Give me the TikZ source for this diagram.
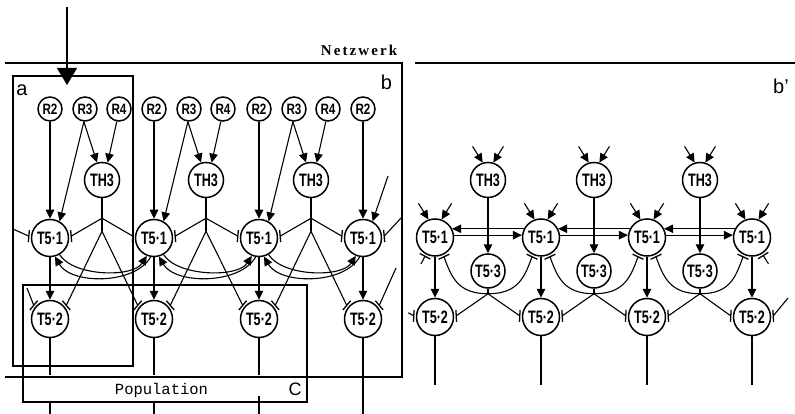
\documentclass[tikz,border=0pt]{standalone}
\usepackage{graphicx}
\usepackage{fontspec}
\setmainfont{Liberation Sans}
\newfontfamily\netzfont[LetterSpace=14]{Liberation Serif}
\newfontfamily\popfont{Liberation Mono}
\usetikzlibrary{arrows.meta,calc}
\newcommand{\nlab}[1]{\scalebox{0.7}[1]{\bfseries #1}}
\newcommand{\rlab}[1]{\scalebox{0.78}[1]{\bfseries #1}}
\newcommand{\inhbar}[3]{%
  \coordinate (#3) at ($(#1.#2)!-2pt!(#1.center)$);
  \draw[barline] ($(#3)!6pt!90:(#1.center)$) -- ($(#3)!6pt!-90:(#1.center)$);
}
\tikzset{
  conn/.style={line width=1.1pt},
  tri/.style={-{Triangle[length=9pt,width=8.5pt]}},
  cell/.style={circle, draw, line width=1.5pt, inner sep=0pt, minimum size=37pt, font=\fontsize{18}{18}\selectfont},
  rcell/.style={cell, minimum size=24pt, font=\fontsize{15}{15}\selectfont},
  thcell/.style={cell, minimum size=35pt},
  tthree/.style={cell, minimum size=34pt},
  barline/.style={line width=1.3pt},
  frame/.style={line width=1.1pt},
  biglabel/.style={inner sep=0pt, font=\fontsize{20}{20}\selectfont},
}
\begin{document}
\begin{tikzpicture}[x=1pt,y=1pt]
\useasboundingbox (0,0) rectangle (795,-414);

% ---------- frames ----------
\draw[frame] (5,-63) -| (402,-377) -- (5,-377);
\draw[frame] (415,-63) -- (795,-63);
\draw[frame] (13,-76) rectangle (133,-366);
\draw[frame] (23,-285) rectangle (307,-402);
\node[inner sep=0pt, font=\fontsize{15}{15}\selectfont\netzfont\bfseries] (netz) at (359,-50) {Netzwerk};
\node[inner sep=0pt, font=\fontsize{15.5}{15.5}\selectfont\popfont] (pop) at (161.5,-390) {Population};
\node[biglabel] (la) at (22,-90) {a};
\node[biglabel] (lb) at (386.5,-82.5) {b};
\node[biglabel] (lbp) at (781,-86) {b'};
\node[biglabel, font=\fontsize{18}{18}\selectfont] (lc) at (295,-389) {C};

% input arrow
\coordinate (in0) at (67,-7);
\coordinate (in1) at (67,-85);
\draw[line width=1.1pt, -{Triangle[length=17pt,width=20pt]}] (in0) -- (in1);

% ---------- left network ----------
\foreach \k/\x in {1/50,2/154,3/259,4/363} {
  \node[cell] (A\k) at (\x,-238) {\nlab{T5·1}};
  \node[cell] (B\k) at (\x,-319) {\nlab{T5·2}};
  \node[rcell] (Rb\k) at (\x,-109) {\rlab{R2}};
}
\foreach \k/\x in {1/50,2/154,3/259} {
  \node[rcell] (Rc\k) at (\x+35,-109) {\rlab{R3}};
  \node[rcell] (Rd\k) at (\x+69,-109) {\rlab{R4}};
  \node[thcell] (H\k) at (\x+52,-180) {\nlab{TH3}};
}
\foreach \k in {1,2,3,4} {
  \draw[conn,tri] (Rb\k) -- (A\k);
  \draw[conn,tri] (A\k) -- (B\k);
}
\foreach \k/\kn in {1/2,2/3,3/4} {
  \draw[conn,tri] (Rc\k.-95) -- (H\k.106);
  \draw[conn,tri] (Rc\k.-95) -- (A\k.60);
  \draw[conn,tri] (Rd\k.-100) -- (H\k.72);
  \coordinate (J\k) at ($(H\k.south)+(0,-20)$);
  \coordinate (K\k) at ($(H\k.south)+(0,-33)$);
  \draw[conn] (H\k) -- (K\k);
  \inhbar{A\k}{5}{ia\k}
  \draw[conn] (J\k) -- (ia\k);
  \inhbar{A\kn}{175}{ib\k}
  \draw[conn] (J\k) -- (ib\k);
  \inhbar{B\k}{40}{ic\k}
  \draw[conn] (K\k) -- (ic\k);
  \inhbar{B\kn}{140}{id\k}
  \draw[conn] (K\k) -- (id\k);
  \draw[conn,tri] (A\k.-60) .. controls +(14,-22) and +(-14,-22) .. (A\kn.-112);
  \draw[conn,tri] (A\kn.-100) .. controls +(-16,-28) and +(16,-28) .. (A\k.-75);
}
% edge inputs, left
\inhbar{A1}{175}{e1}
\coordinate (e1s) at (13,-229);
\draw[conn] (e1s) -- (e1);
\inhbar{A4}{5}{e2}
\coordinate (e2s) at (402,-217);
\draw[conn] (e2s) -- (e2);
\coordinate (e5s) at (388,-176);
\draw[conn,tri] (e5s) -- (A4.60);
\inhbar{B1}{140}{e3}
\coordinate (e3s) at (27,-288);
\draw[conn] (e3s) -- (e3);
\inhbar{B4}{40}{e4}
\coordinate (e4s) at (396,-268);
\draw[conn] (e4s) -- (e4);
% outputs, left
\foreach \k/\x in {1/50,2/154,3/259} {
  \coordinate (o\k) at (\x,-375);
  \draw[conn] (B\k) -- (o\k);
}
\coordinate (p1a) at (50,-402);  \coordinate (p1b) at (50,-414);
\coordinate (p2a) at (154,-402); \coordinate (p2b) at (154,-414);
\coordinate (p3a) at (259,-396); \coordinate (p3b) at (259,-414);
\draw[conn] (p1a) -- (p1b);
\draw[conn] (p2a) -- (p2b);
\draw[conn] (p3a) -- (p3b);
\coordinate (o4) at (363,-414);
\draw[conn] (B4) -- (o4);

% ---------- right network b' ----------
\foreach \k/\x in {1/435,2/541,3/647,4/752} {
  \node[cell] (P\k) at (\x,-237.5) {\nlab{T5·1}};
  \node[cell] (Q\k) at (\x,-317) {\nlab{T5·2}};
  \coordinate (pl\k) at ($(P\k.110)+(122:19)$);
  \coordinate (pr\k) at ($(P\k.70)+(58:19)$);
  \draw[conn,tri] (pl\k) -- (P\k.110);
  \draw[conn,tri] (pr\k) -- (P\k.70);
  \draw[conn,tri] (P\k) -- (Q\k);
  \coordinate (q\k) at (\x,-385);
  \draw[conn] (Q\k) -- (q\k);
}
\foreach \k/\kn/\x in {1/2/488,2/3/594,3/4/700} {
  \node[thcell] (G\k) at (\x,-180) {\nlab{TH3}};
  \node[tthree] (S\k) at (\x,-271) {\nlab{T5·3}};
  \coordinate (gl\k) at ($(G\k.107)+(122:19)$);
  \coordinate (gr\k) at ($(G\k.73)+(58:19)$);
  \draw[conn,tri] (gl\k) -- (G\k.107);
  \draw[conn,tri] (gr\k) -- (G\k.73);
  \draw[conn,tri] (G\k) -- (S\k);
  \draw[conn,tri] (P\kn.153) -- (P\k.27);
  \draw[conn,tri] (P\k.7) -- (P\kn.173);
  \coordinate (U\k) at ($(S\k.south)+(0,-5)$);
  \draw[conn] (S\k) -- (U\k);
  \inhbar{P\k}{-65}{ua\k}
  \draw[conn] (U\k) .. controls +(-30,0) and +(-70:22) .. (ua\k);
  \inhbar{P\kn}{-115}{ub\k}
  \draw[conn] (U\k) .. controls +(30,0) and +(-110:22) .. (ub\k);
  \inhbar{Q\k}{3}{uc\k}
  \draw[conn] (U\k) -- (uc\k);
  \inhbar{Q\kn}{177}{ud\k}
  \draw[conn] (U\k) -- (ud\k);
}
% edge stubs, right
\inhbar{P1}{-118}{f1}
\coordinate (f1s) at ($(P1.center)+(-118:30)$);
\draw[conn] (f1s) -- (f1);
\inhbar{P4}{-58}{f2}
\coordinate (f2s) at ($(P4.center)+(-58:31)$);
\draw[conn] (f2s) -- (f2);
\inhbar{Q1}{177}{f3}
\coordinate (f3s) at ($(Q1.center)+(171:27)$);
\draw[conn] (f3s) -- (f3);
\inhbar{Q4}{3}{f4}
\coordinate (f4s) at (788,-298);
\draw[conn] (f4s) -- (f4);
\end{tikzpicture}
\end{document}
